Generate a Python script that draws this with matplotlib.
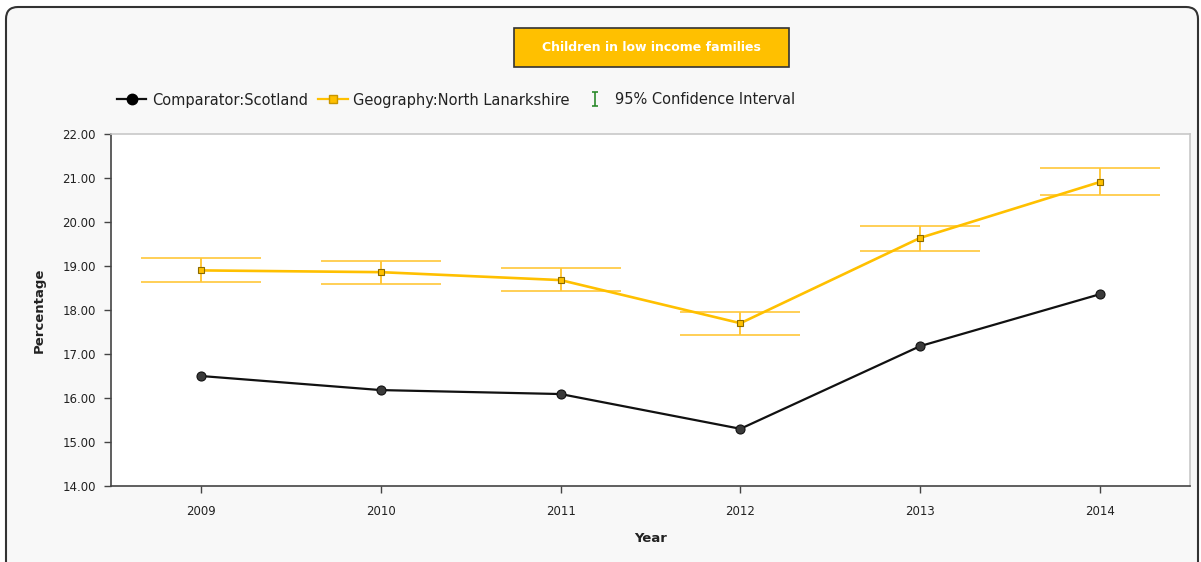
import matplotlib
matplotlib.use("Agg")
import matplotlib.pyplot as plt
from matplotlib.lines import Line2D
from matplotlib.patches import FancyBboxPatch, Rectangle
from matplotlib.path import Path
from matplotlib.ticker import FormatStrFormatter

years = [2009, 2010, 2011, 2012, 2013, 2014]
scotland = [16.50, 16.18, 16.09, 15.30, 17.18, 18.36]
north_lanarkshire = [18.90, 18.86, 18.68, 17.70, 19.64, 20.91]
nl_upper = [19.18, 19.11, 18.95, 17.95, 19.91, 21.23]
nl_lower = [18.64, 18.59, 18.43, 17.43, 19.34, 20.61]

title = "Children in low income families"
label_scot = "Comparator:Scotland"
label_nl = "Geography:North Lanarkshire"
label_ci = "95% Confidence Interval"

ORANGE = "#FFC000"
CI_ORANGE = "#FFC73A"
GREEN = "#2E8B2E"

plt.rcParams["font.family"] = ["DejaVu Sans"]

fig = plt.figure(figsize=(12.01, 5.62), dpi=100, facecolor="white")

# outer rounded frame
frame = FancyBboxPatch((0.06, -0.2), 11.92, 5.75, boxstyle="round,pad=0,rounding_size=0.12",
                       transform=fig.dpi_scale_trans, facecolor="#F8F8F8",
                       edgecolor="#333333", linewidth=1.5, zorder=-3)
fig.patches.append(frame)

# title box
box = Rectangle((5.14, 5.62 - 0.67), 2.75, 0.39, transform=fig.dpi_scale_trans,
                facecolor=ORANGE, edgecolor="#333333", linewidth=1.2, zorder=-2)
fig.patches.append(box)
fig.text(6.515 / 12.01, 1 - 47.5 / 562, title, ha="center", va="center",
         color="white", fontsize=9, fontweight="bold")

ax = fig.add_axes([111 / 1201, 1 - 486 / 562, (1190 - 111) / 1201, (486 - 134) / 562])
ax.set_zorder(1)
ax.set_facecolor("white")

yerr = [[v - lo for v, lo in zip(north_lanarkshire, nl_lower)],
        [hi - v for v, hi in zip(north_lanarkshire, nl_upper)]]
ax.errorbar(years, north_lanarkshire, yerr=yerr, fmt="none", ecolor=CI_ORANGE,
            elinewidth=1.4, capsize=43, capthick=1.2, zorder=2)
ax.plot(years, north_lanarkshire, color=ORANGE, linewidth=1.9, marker="s",
        markersize=4.5, markerfacecolor=ORANGE, markeredgecolor="#8A6A00",
        markeredgewidth=0.8, zorder=3)
ax.plot(years, scotland, color="#111111", linewidth=1.6, marker="o",
        markersize=6.5, markerfacecolor="#3a3a3a", markeredgecolor="#111111",
        markeredgewidth=0.8, zorder=3)

ax.set_xlim(2008.5, 2014.5)
ax.set_ylim(14, 22)
ax.set_xticks(years)
ax.set_yticks(range(14, 23))
ax.yaxis.set_major_formatter(FormatStrFormatter("%.2f"))
ax.tick_params(direction="out", length=5, width=1, color="#444444",
               labelsize=8.5, labelcolor="#222222", pad=6)
ax.tick_params(axis="x", pad=9)

for side in ("left", "bottom"):
    ax.spines[side].set_color("#444444")
    ax.spines[side].set_linewidth(1.2)
for side in ("top", "right"):
    ax.spines[side].set_color("#C8C8C8")
    ax.spines[side].set_linewidth(1.2)

ax.set_xlabel("Year", fontsize=9.5, fontweight="bold", color="#222222", labelpad=10)
ax.set_ylabel("Percentage", fontsize=9.5, fontweight="bold", color="#222222", labelpad=12)

# legend
ci_marker = Path([(-0.5, 1), (0.5, 1), (0, 1), (0, -1), (-0.5, -1), (0.5, -1)],
                 [Path.MOVETO, Path.LINETO, Path.MOVETO, Path.LINETO, Path.MOVETO, Path.LINETO])
handles = [
    Line2D([], [], color="#111111", linewidth=1.6, marker="o", markersize=7.5,
           markerfacecolor="black", markeredgecolor="black"),
    Line2D([], [], color=ORANGE, linewidth=1.6, marker="s", markersize=6,
           markerfacecolor=ORANGE, markeredgecolor="#C89600"),
    Line2D([], [], linestyle="none", marker=ci_marker, markersize=10,
           markerfacecolor="none", markeredgecolor=GREEN, markeredgewidth=1.2),
]
fig.legend(handles, [label_scot, label_nl, label_ci], loc="center left",
           bbox_to_anchor=(104 / 1201, 1 - 100 / 562), ncol=3, frameon=False,
           fontsize=10.5, handlelength=2.0, handletextpad=0.4, columnspacing=0.7,
           labelcolor="#222222")

fig.savefig("out.png", dpi=100, facecolor=fig.get_facecolor())
